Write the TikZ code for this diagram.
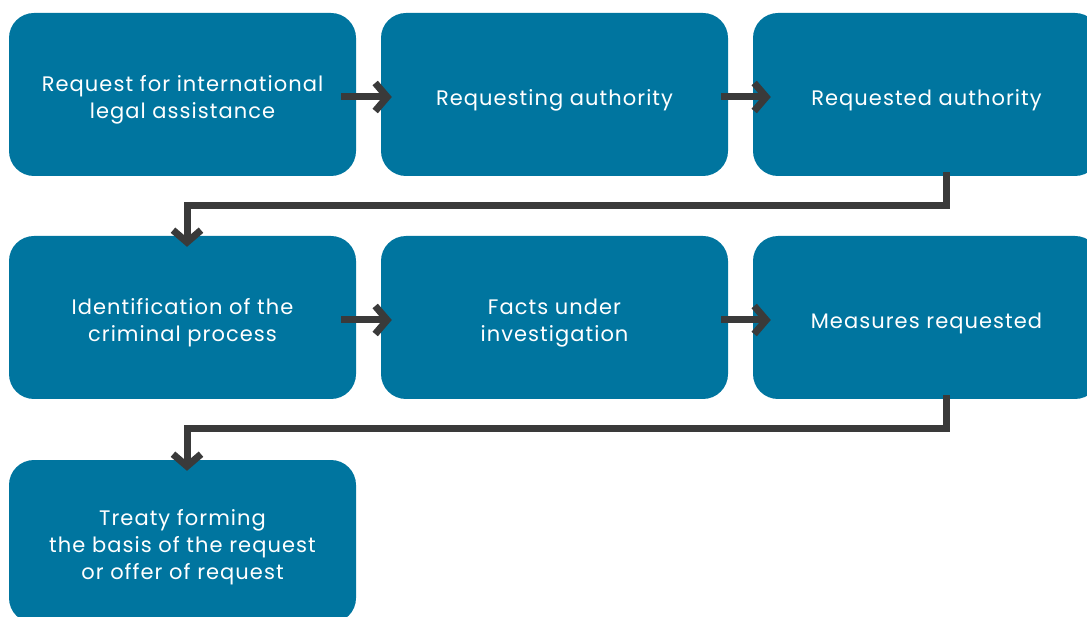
\documentclass[tikz,border=0pt]{standalone}
\usepackage{fontspec}
\setmainfont{Poppins}[LetterSpace=5]
\usetikzlibrary{arrows.meta}
\definecolor{boxteal}{RGB}{0,117,159}
\definecolor{arrgray}{RGB}{58,58,58}
\tikzset{
  boxtext/.style={text=white, align=center, inner sep=0pt,
    font=\fontsize{21}{27}\selectfont, yshift=-5.5pt},
  stepbox/.style={rectangle, rounded corners=25pt, fill=boxteal, draw=none,
    minimum width=347pt, minimum height=163pt, inner sep=0pt,
    label={[boxtext]center:{#1}}},
  arr/.style={draw=arrgray, line width=7pt,
    -{Straight Barb[length=12pt,width=28pt]}, shorten <=-15pt, shorten >=-11pt},
  arrb/.style={arr, shorten <=-7pt, shorten >=-18pt},
}
\begin{document}
\begin{tikzpicture}[x=1pt,y=-1pt]
\useasboundingbox (0,0) rectangle (1087,617);
\clip (0,0) rectangle (1087,617);
\node[stepbox={Request for international\\legal assistance}] (a1) at (182.5,94.5) {};
\node[stepbox={Requesting authority}] (a2) at (554.5,94.5) {};
\node[stepbox={Requested authority}] (a3) at (926.5,94.5) {};
\node[stepbox={Identification of the\\criminal process}] (b1) at (182.5,317.5) {};
\node[stepbox={Facts under\\investigation}] (b2) at (554.5,317.5) {};
\node[stepbox={Measures requested}] (b3) at (926.5,317.5) {};
\node[stepbox={Treaty forming\\the basis of the request\\or offer of request}] (c1) at (182.5,541.5) {};
\draw[arr] ([yshift=-2.5pt]a1.east) -- ([yshift=-2.5pt]a2.west);
\draw[arrb] ([yshift=-2.5pt]a2.east) -- ([yshift=-2.5pt]a3.west);
\draw[arr] ([yshift=-2.5pt]b1.east) -- ([yshift=-2.5pt]b2.west);
\draw[arrb] ([yshift=-2.5pt]b2.east) -- ([yshift=-2.5pt]b3.west);
\draw[arr, shorten <=0pt] ([xshift=20pt,yshift=4pt]a3.south) -- ++(0,33.5) -| ([xshift=4.5pt]b1.north);
\draw[arr, shorten <=0pt] ([xshift=20pt,yshift=4pt]b3.south) -- ++(0,33.5) -| ([xshift=4.5pt]c1.north);
\end{tikzpicture}
\end{document}
